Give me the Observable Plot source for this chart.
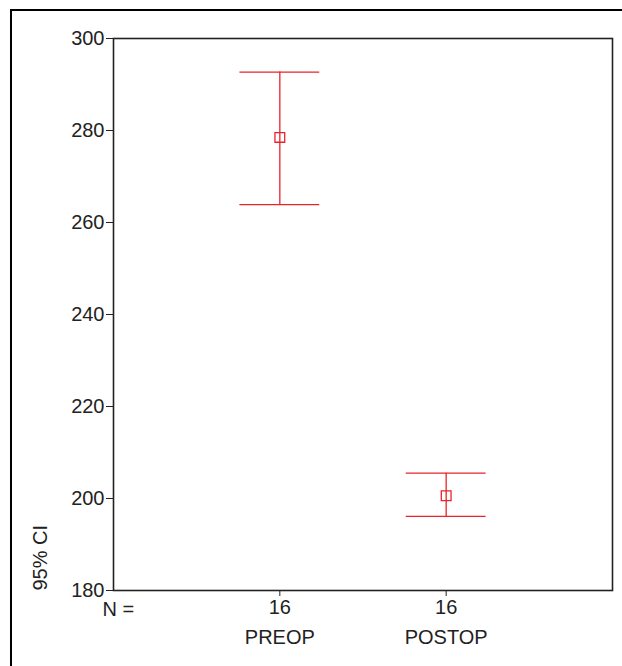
<!DOCTYPE html>
<html>
<head>
<meta charset="utf-8">
<script src="https://cdn.jsdelivr.net/npm/d3@7"></script>
<script src="https://cdn.jsdelivr.net/npm/@observablehq/plot@0.6"></script>
<style>
  body { margin: 0; background: #fff; }
  #wrap { position: relative; width: 622px; height: 666px; overflow: hidden; }
  #border { position: absolute; left: 10px; top: 9px; right: -5px; bottom: -5px;
            border-top: 2px solid #000; border-left: 2px solid #000; pointer-events: none; }
</style>
</head>
<body>
<div id="wrap"><div id="border"></div></div>
<script>
const groups = ["PREOP", "POSTOP"];
const counts = [16, 16];
const means = [278.5, 200.6];
const lower = [263.9, 196.1];
const upper = [292.7, 205.5];
const yTicks = [180, 200, 220, 240, 260, 280, 300];

const data = groups.map((g, i) => ({
  group: g, pos: i + 1, n: counts[i], mean: means[i], lo: lower[i], hi: upper[i]
}));

const red = "#e8232b";
const ink = "#222";
const font = "Liberation Sans, Arial, sans-serif";
const fs = 20;

const chart = Plot.plot({
  width: 622,
  height: 666,
  marginLeft: 113,
  marginRight: 10,
  marginTop: 38,
  marginBottom: 76,
  style: { fontFamily: font, fontSize: fs + "px", color: ink, background: "transparent" },
  x: { type: "linear", domain: [0, 3] },
  y: { domain: [180, 300] },
  marks: [
    Plot.frame({ stroke: ink, strokeWidth: 1.6 }),
    Plot.axisY({ ticks: yTicks, tickSize: 7, tickPadding: 2, label: null, fontSize: fs, tickFormat: d => String(d) }),
    Plot.axisX({ ticks: data.map(d => d.pos), tickSize: 6, tickPadding: 3, label: null, fontSize: fs,
                 tickFormat: (d) => String(counts[d - 1]) }),
    Plot.text(["N ="], { frameAnchor: "bottom-left", textAnchor: "start", lineAnchor: "middle", dx: -11, dy: 19, fontSize: fs, fill: ink }),
    Plot.text(data, { x: "pos", text: "group", frameAnchor: "bottom", lineAnchor: "middle", dy: 47, fontSize: fs, fill: ink }),
    Plot.text(["95% CI"], { frameAnchor: "bottom-left", rotate: -90, textAnchor: "start", lineAnchor: "middle", dx: -73, fontSize: fs, fill: ink }),
    Plot.ruleX(data, { x: "pos", y1: "lo", y2: "hi", stroke: red, strokeWidth: 1.3 }),
    Plot.ruleY(data, { y: "hi", x1: d => d.pos - 0.24, x2: d => d.pos + 0.24, stroke: red, strokeWidth: 1.3 }),
    Plot.ruleY(data, { y: "lo", x1: d => d.pos - 0.24, x2: d => d.pos + 0.24, stroke: red, strokeWidth: 1.3 }),
    Plot.dot(data, { x: "pos", y: "mean", symbol: "square", r: 5.5, stroke: red, fill: "none", strokeWidth: 1.3 })
  ]
});
document.getElementById("wrap").prepend(chart);
</script>
</body>
</html>
